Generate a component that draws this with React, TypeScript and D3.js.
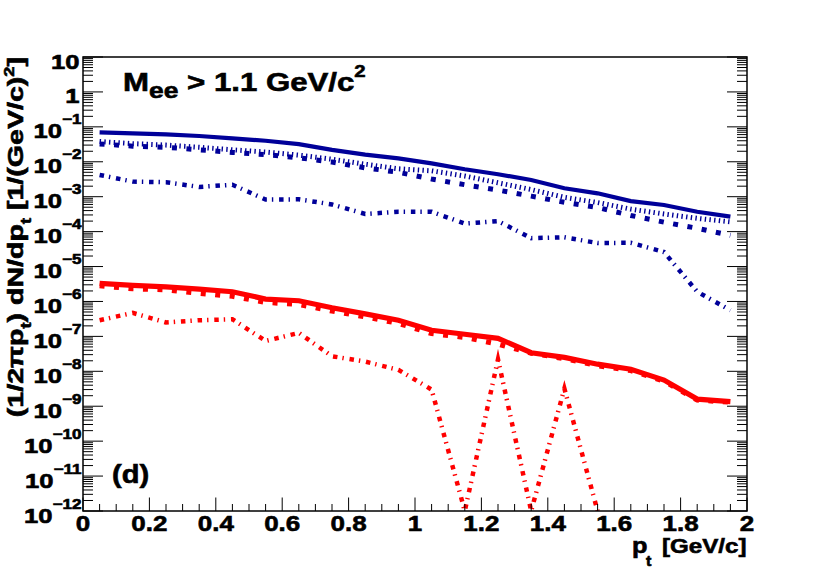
import React from "react";
import * as d3 from "d3";

// bin centres (p_t, GeV/c)
const PT = [0.05, 0.15, 0.25, 0.35, 0.45, 0.55, 0.65, 0.75, 0.85, 0.95, 1.05, 1.15, 1.25, 1.35, 1.45, 1.55, 1.65, 1.75, 1.85, 1.95];

// blue family
const blueSolid = [0.0695, 0.065, 0.061, 0.0546, 0.047, 0.04, 0.032, 0.022, 0.016, 0.0125, 0.009, 0.0061, 0.0044, 0.003, 0.00174, 0.00125, 0.00075, 0.00058, 0.00037, 0.00027];
const blueDotted = [0.038, 0.033, 0.03, 0.026, 0.022, 0.019, 0.0155, 0.0118, 0.0085, 0.0063, 0.0055, 0.0039, 0.0025, 0.0016, 0.00096, 0.00068, 0.00044, 0.00032, 0.00024, 0.00019];
const blueDashed = [0.0325, 0.028, 0.026, 0.022, 0.0185, 0.016, 0.013, 0.0098, 0.0067, 0.005, 0.0032, 0.0022, 0.00155, 0.00104, 0.00069, 0.00049, 0.00029, 0.000186, 0.000125, 0.000078];
const blueDashDot = [0.0042, 0.0027, 0.0026, 0.0019, 0.0022, 0.00083, 0.00084, 0.0006, 0.00032, 0.00037, 0.00037, 0.00017, 0.0002, 0.000065, 0.000069, 0.000047, 0.000048, 0.000026, 1.9e-6, 5.6e-7];

// red family
const redSolid = [3.3e-6, 2.9e-6, 2.6e-6, 2.26e-6, 1.9e-6, 1.17e-6, 1.05e-6, 6.6e-7, 4.4e-7, 2.9e-7, 1.5e-7, 1.15e-7, 8.8e-8, 3.4e-8, 2.5e-8, 1.6e-8, 1.15e-8, 5.6e-9, 1.6e-9, 1.35e-9];
const redDashed = [2.8e-6, 2.3e-6, 2.15e-6, 1.7e-6, 1.4e-6, 9.4e-7, 8.2e-7, 5.3e-7, 3.6e-7, 2.35e-7, 1.2e-7, 9.3e-8, 6e-8, 3.3e-8, 2.3e-8, 1.45e-8, 1.05e-8, 5.2e-9, 1.5e-9, 1.3e-9];
const redDashDot = [2.9e-7, 4.7e-7, 2.5e-7, 2.9e-7, 3.1e-7, 7.4e-8, 1.26e-7, 2.7e-8, 1.9e-8, 1.1e-8, 3.0e-9, 0, 2.2e-8, 0, 3.2e-9, 0, 0, 0, 0, 0];

const X_DOMAIN = [0, 2];
const Y_DOMAIN = [1e-12, 10];
const X_MAJOR = [0, 0.2, 0.4, 0.6, 0.8, 1, 1.2, 1.4, 1.6, 1.8, 2];
const X_LABELS = ["0", "0.2", "0.4", "0.6", "0.8", "1", "1.2", "1.4", "1.6", "1.8", "2"];
const Y_EXPONENTS = [1, 0, -1, -2, -3, -4, -5, -6, -7, -8, -9, -10, -11, -12];

const BLUE = "#000099";
const RED = "#ff0000";
const FONT = "'Liberation Sans', Arial, Helvetica, sans-serif";

const L = 83, R = 747, T = 57, B = 511;

export default function App() {
  const x = d3.scaleLinear().domain(X_DOMAIN).range([L, R]);
  const y = d3.scaleLog().domain(Y_DOMAIN).range([B, T]);
  const yMin = Y_DOMAIN[0];

  const path = (vals: number[]) =>
    d3
      .line<number>()
      .defined((v, i) => v > 0 || (i > 0 && vals[i - 1] > 0) || (i < vals.length - 1 && vals[i + 1] > 0))
      .x((_, i) => x(PT[i]))
      .y((v) => y(Math.max(v, yMin)))(vals) || "";

  const series = [
    { vals: blueDashDot, color: BLUE, w: 4.5, dash: "4.5 5 1.4 5.8" },
    { vals: blueDashed, color: BLUE, w: 5, dash: "5 9.5" },
    { vals: blueDotted, color: BLUE, w: 5, dash: "1.4 3.3" },
    { vals: blueSolid, color: BLUE, w: 4.2, dash: "none" },
    { vals: redDashDot, color: RED, w: 4.5, dash: "4.5 5 1.4 5.8" },
    { vals: redDashed, color: RED, w: 5, dash: "5 9.5" },
    { vals: redSolid, color: RED, w: 5.2, dash: "none" },
  ];

  const xMinor = d3.range(0, 2.0001, 0.05).filter((v) => Math.abs(v / 0.2 - Math.round(v / 0.2)) > 1e-6);
  const yMinor: number[] = [];
  for (let k = -12; k <= 0; k++) for (let m = 2; m <= 9; m++) yMinor.push(m * Math.pow(10, k));

  return (
    <svg width={830} height={568} style={{ position: "absolute", left: 0, top: 0, background: "#fff" }} fontFamily={FONT} fontWeight="bold">
      <defs>
        <clipPath id="frame">
          <rect x={L} y={T} width={R - L} height={B - T} />
        </clipPath>
      </defs>

      <g clipPath="url(#frame)" fill="none">
        {series.map((s, i) => (
          <path key={i} d={path(s.vals)} stroke={s.color} strokeWidth={s.w} strokeDasharray={s.dash} strokeLinejoin="miter" strokeMiterlimit={10} strokeLinecap="butt" />
        ))}
      </g>

      {/* frame */}
      <rect x={L} y={T} width={R - L} height={B - T} fill="none" stroke="#000" strokeWidth={1.5} />

      {/* x ticks */}
      {X_MAJOR.map((v) => (
        <line key={"xM" + v} x1={x(v)} x2={x(v)} y1={B} y2={B - 13.5} stroke="#000" strokeWidth={1} />
      ))}
      {xMinor.map((v) => (
        <line key={"xm" + v} x1={x(v)} x2={x(v)} y1={B} y2={B - 7} stroke="#000" strokeWidth={1} />
      ))}

      {/* y ticks left and right */}
      {Y_EXPONENTS.map((k) => (
        <g key={"yM" + k}>
          <line x1={L} x2={L + 20} y1={y(Math.pow(10, k))} y2={y(Math.pow(10, k))} stroke="#000" strokeWidth={1} />
          <line x1={R} x2={R - 20} y1={y(Math.pow(10, k))} y2={y(Math.pow(10, k))} stroke="#000" strokeWidth={1} />
        </g>
      ))}
      {yMinor.map((v, i) => (
        <g key={"ym" + i}>
          <line x1={L} x2={L + 10} y1={y(v)} y2={y(v)} stroke="#000" strokeWidth={1} />
          <line x1={R} x2={R - 10} y1={y(v)} y2={y(v)} stroke="#000" strokeWidth={1} />
        </g>
      ))}

      <g fill="#000" stroke="#000" strokeWidth={0.6}>
        {/* x labels */}
        {X_MAJOR.map((v, i) => (
          <text key={"xl" + v} transform={`translate(${x(v)},531) scale(1.18,1)`} textAnchor="middle" fontSize={22}>
            {X_LABELS[i]}
          </text>
        ))}

        {/* y labels */}
        {Y_EXPONENTS.map((k) => {
          const yy = y(Math.pow(10, k)) + 11.5;
          if (k === 1 || k === 0)
            return (
              <text key={"yl" + k} transform={`translate(79.5,${yy}) scale(1.22,1)`} textAnchor="end" fontSize={21}>
                {k === 1 ? "10" : "1"}
              </text>
            );
          return (
            <text key={"yl" + k} transform={`translate(81.5,${yy}) scale(1.22,1)`} textAnchor="end" fontSize={21}>
              10
              <tspan fontSize={14} dy={-14}>{"\u2212" + -k}</tspan>
            </text>
          );
        })}

        {/* x title */}
        <text transform="translate(632,553) scale(1.15,1)" fontSize={22}>p</text>
        <text transform="translate(646,565.5) scale(1.15,1)" fontSize={14}>t</text>
        <text transform="translate(746.5,553) scale(1.15,1)" fontSize={21}>
          <tspan textAnchor="end">[GeV/c]</tspan>
        </text>

        {/* y title */}
        <text transform="translate(22.5,57) rotate(-90) scale(1.3,1)" fontSize={22} textAnchor="end">
          (1/2πp<tspan fontSize={14} dy={8}>t</tspan>
          <tspan dy={-8}>) dN/dp</tspan>
          <tspan fontSize={14} dy={8}>t</tspan>
          <tspan dy={-8}> [1/(GeV/c)</tspan>
          <tspan fontSize={14} dy={-9}>2</tspan>
          <tspan dy={9}>]</tspan>
        </text>

        {/* annotations */}
        <text transform="translate(123,90.7) scale(1.2,1)" fontSize={26}>
          M<tspan fontSize={22} dy={7.5}>ee</tspan>
          <tspan dy={-7.5}> {"> 1.1 GeV/c"}</tspan>
          <tspan fontSize={17} dy={-13.4}>2</tspan>
        </text>
        <text transform="translate(112,482.5) scale(1.12,1)" fontSize={26}>(d)</text>
      </g>
    </svg>
  );
}
